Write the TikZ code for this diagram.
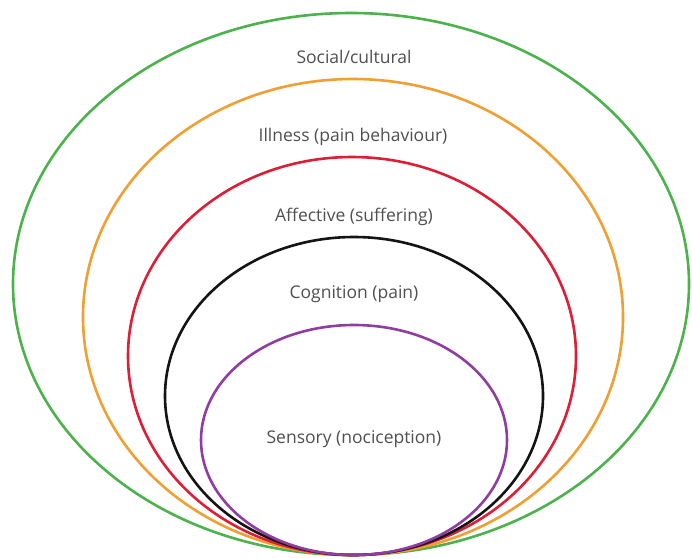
\documentclass[tikz,border=0pt]{standalone}
\usepackage{fontspec}
\setmainfont{Open Sans}
\definecolor{cgreen}{RGB}{76,178,76}
\definecolor{corange}{RGB}{240,160,50}
\definecolor{cred}{RGB}{222,30,55}
\definecolor{cblack}{RGB}{20,20,20}
\definecolor{cpurple}{RGB}{145,60,160}
\definecolor{ctext}{RGB}{80,80,80}
\begin{document}
\begin{tikzpicture}[x=1pt,y=-1pt,
  ring/.style={line width=2.6pt},
  lbl/.style={font=\fontsize{17.5}{20}\selectfont, text=ctext, inner sep=0pt}]
\fill[white] (0,0) rectangle (692,558);
\useasboundingbox (0,0) rectangle (692,558);
\draw[ring, cgreen]  (351,284) ellipse [x radius=338pt, y radius=271pt];
\draw[ring, corange] (353,317) ellipse [x radius=270pt, y radius=238pt];
\draw[ring, cred]    (352,356) ellipse [x radius=224pt, y radius=199pt];
\draw[ring, cblack]  (354,396) ellipse [x radius=189pt, y radius=159pt];
\draw[ring, cpurple] (354,440) ellipse [x radius=153pt, y radius=115pt];
\node[lbl] (social) at (354,57) {Social/cultural};
\node[lbl] (illness) at (353,137) {Illness (pain behaviour)};
\node[lbl] (affective) at (354,217) {Affective (suffering)};
\node[lbl] (cognition) at (354,294) {Cognition (pain)};
\node[lbl] (sensory) at (354,439) {Sensory (nociception)};
\end{tikzpicture}
\end{document}
